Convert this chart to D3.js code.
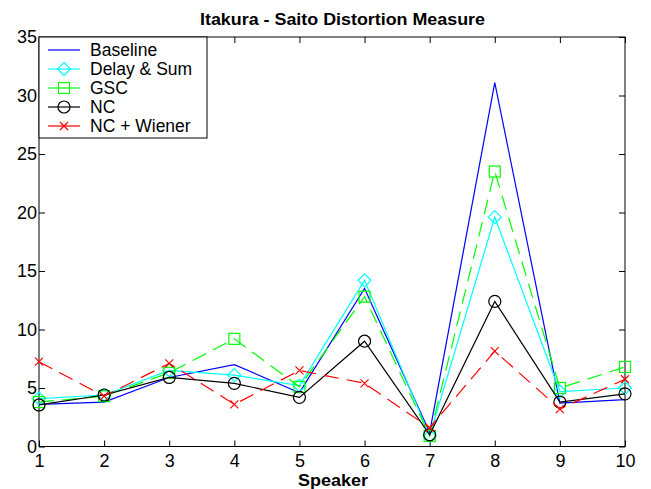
<!DOCTYPE html>
<html><head><meta charset="utf-8">
<script src="https://cdn.jsdelivr.net/npm/d3@7"></script>
<style>body{margin:0;background:#fff;} svg{display:block;}</style>
</head><body>
<svg id="c" width="651" height="489"></svg>
<script>
const speakers = [1,2,3,4,5,6,7,8,9,10];
const xTicks = [1,2,3,4,5,6,7,8,9,10];
const yTicks = [0,5,10,15,20,25,30,35];
const baseline   = [3.6, 3.8, 5.9, 7.0, 4.6, 13.5, 1.2, 31.1, 3.7, 4.0];
const delaySum   = [4.1, 4.4, 6.5, 6.1, 5.2, 14.2, 0.9, 19.6, 4.7, 5.0];
const gsc        = [3.8, 4.3, 6.3, 9.2, 5.1, 12.8, 0.9, 23.5, 5.0, 6.8];
const nc         = [3.55, 4.4, 5.9, 5.4, 4.2, 9.0, 1.0, 12.4, 3.8, 4.5];
const ncWiener   = [7.25, 4.3, 7.1, 3.6, 6.5, 5.4, 1.6, 8.15, 3.2, 5.75];
const seriesNames = ["Baseline","Delay & Sum","GSC","NC","NC + Wiener"];

const series = [
  {name: seriesNames[0], values: baseline, color:"#0000ff", dash:null, marker:"none"},
  {name: seriesNames[1], values: delaySum, color:"#00ffff", dash:null, marker:"diamond"},
  {name: seriesNames[2], values: gsc, color:"#00ff00", dash:"15,8", marker:"square"},
  {name: seriesNames[3], values: nc, color:"#000000", dash:null, marker:"circle"},
  {name: seriesNames[4], values: ncWiener, color:"#ff0000", dash:"15,8", marker:"x"}
];

const svg = d3.select("#c");
const L=39, R=625, T=37, B=446.5;
const x = d3.scaleLinear().domain([1,10]).range([L,R]);
const y = d3.scaleLinear().domain([0,35]).range([B,T]);
const font = "'Liberation Sans', Arial, sans-serif";

// title
svg.append("text").attr("x",342.5).attr("y",25).attr("text-anchor","middle")
  .attr("font-family",font).attr("font-weight","bold").attr("font-size",16.5)
  .attr("textLength",285).attr("lengthAdjust","spacingAndGlyphs")
  .text("Itakura - Saito Distortion Measure");

// axes
const tickLen = 6;
const axB = d3.axisBottom(x).tickValues(xTicks).tickSize(-tickLen).tickPadding(8).tickFormat(d3.format("d"));
const axT = d3.axisTop(x).tickValues(xTicks).tickSize(-tickLen).tickFormat("");
const axLf = d3.axisLeft(y).tickValues(yTicks).tickSize(-tickLen).tickPadding(2).tickFormat(d3.format("d"));
const axRt = d3.axisRight(y).tickValues(yTicks).tickSize(-tickLen).tickFormat("");
function style(g){ g.select(".domain").attr("stroke","#000").attr("stroke-width",1);
  g.selectAll(".tick line").attr("stroke","#000");
  g.selectAll("text").attr("font-family",font).attr("font-size",18).attr("fill","#000"); }
svg.append("g").attr("transform",`translate(0,${B})`).call(axB).call(style);
svg.append("g").attr("transform",`translate(0,${T})`).call(axT).call(style);
svg.append("g").attr("transform",`translate(${L},0)`).call(axLf).call(style);
svg.append("g").attr("transform",`translate(${R},0)`).call(axRt).call(style);
svg.selectAll(".domain").attr("d", null);
svg.append("rect").attr("x",L).attr("y",T).attr("width",R-L).attr("height",B-T).attr("fill","none").attr("stroke","#000");

svg.append("text").attr("x",333).attr("y",486).attr("text-anchor","middle")
  .attr("font-family",font).attr("font-weight","bold").attr("font-size",17)
  .attr("textLength",70).attr("lengthAdjust","spacingAndGlyphs").text("Speaker");

function drawMarker(g, type, cx, cy, color){
  if(type==="diamond"){
    g.append("path").attr("d",`M${cx},${cy-6.5}L${cx+6.5},${cy}L${cx},${cy+6.5}L${cx-6.5},${cy}Z`)
      .attr("fill","none").attr("stroke",color).attr("stroke-width",1.2);
  } else if(type==="square"){
    g.append("rect").attr("x",cx-5.5).attr("y",cy-5.5).attr("width",11).attr("height",11)
      .attr("fill","none").attr("stroke",color).attr("stroke-width",1.2);
  } else if(type==="circle"){
    g.append("circle").attr("cx",cx).attr("cy",cy).attr("r",6)
      .attr("fill","none").attr("stroke",color).attr("stroke-width",1.2);
  } else if(type==="x"){
    g.append("path").attr("d",`M${cx-4},${cy-4}L${cx+4},${cy+4}M${cx-4},${cy+4}L${cx+4},${cy-4}`)
      .attr("stroke",color).attr("stroke-width",1.2);
  }
}

const line = d3.line().x((d,i)=>x(speakers[i])).y(d=>y(d));
series.forEach(s=>{
  const g = svg.append("g");
  g.append("path").attr("d",line(s.values)).attr("fill","none").attr("stroke",s.color)
    .attr("stroke-width",1.2).attr("stroke-dasharray",s.dash);
  s.values.forEach((v,i)=>drawMarker(g,s.marker,x(speakers[i]),y(v),s.color));
});

// legend
const lg = svg.append("g");
lg.append("rect").attr("x",L).attr("y",T).attr("width",168).attr("height",101).attr("fill","#fff").attr("stroke","#000");
series.forEach((s,i)=>{
  const yy = 50 + i*19;
  lg.append("line").attr("x1",48).attr("x2",80).attr("y1",yy).attr("y2",yy).attr("stroke",s.color).attr("stroke-width",1.2);
  drawMarker(lg, s.marker, 64, yy, s.color);
  lg.append("text").attr("x",90).attr("y",yy+6).attr("font-family",font).attr("font-size",17.5).text(s.name);
});
</script>
</body></html>
